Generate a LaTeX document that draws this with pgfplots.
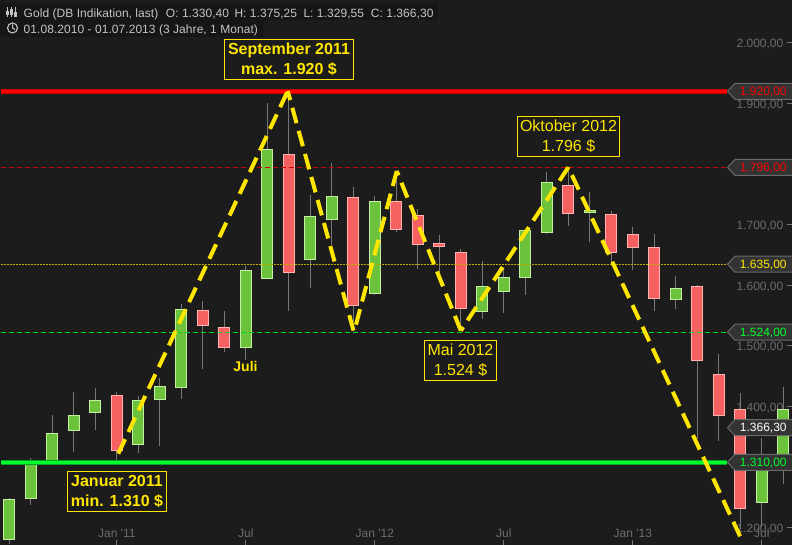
\documentclass[border=0pt]{standalone}
\usepackage{fontspec}
\setmainfont{Liberation Sans}
\usepackage{pgfplots}
\pgfplotsset{compat=1.18}
\definecolor{bg}{HTML}{1C1C1C}
\definecolor{strip}{HTML}{161616}
\definecolor{cgreen}{HTML}{6CC23A}
\definecolor{cgreenb}{HTML}{C4F0A4}
\definecolor{cred}{HTML}{F56060}
\definecolor{credb}{HTML}{FFB4B4}
\definecolor{wick}{HTML}{777777}
\definecolor{ticktxt}{HTML}{6C6C6C}
\definecolor{hdr}{HTML}{C4C4C4}
\definecolor{ann}{HTML}{FFE600}
\definecolor{lblfill}{HTML}{333333}
\definecolor{lbldraw}{HTML}{6A6A6A}
\definecolor{lineg}{HTML}{00FF2A}
\definecolor{lineG}{HTML}{00A52A}
\definecolor{liner}{HTML}{FF0000}
\definecolor{lineR}{HTML}{C40000}
% \candle{index}{top of body}{bottom of body}{high}{low}{fill}{border}
\newcommand\candle[7]{%
  \pgfmathsetmacro\xa{#1-0.263}\pgfmathsetmacro\xb{#1+0.263}%
  \addplot[wick,line width=1bp,forget plot] coordinates {(#1,#4) (#1,#5)};
  \addplot[fill=#6,draw=#7,line width=1bp,forget plot] coordinates {(\xa,#2) (\xb,#2) (\xb,#3) (\xa,#3)} -- cycle;
}
\newcommand\up[5]{\candle{#1}{#2}{#3}{#4}{#5}{cgreen}{cgreenb}}
\newcommand\dn[5]{\candle{#1}{#2}{#3}{#4}{#5}{cred}{credb}}
\newcommand\pricelabel[3]{% py, colour, text
  \draw[fill=lblfill,draw=lbldraw,line width=1bp] (727.5,#1) -- (735,#1+8) -- (793,#1+8) -- (793,#1-8) -- (735,#1-8) -- cycle;
  \node[anchor=base east,inner sep=0pt,text=#2,font=\fontsize{12bp}{14bp}\selectfont] at (786.8,#1-4.3) {#3};
}
\tikzset{annbox/.style={draw=ann,line width=1bp,text=ann,align=center,inner sep=0pt,fill=none},
 trend/.style={ann,line width=4bp,dash pattern=on 16bp off 7.9bp}}
\begin{document}
\begin{tikzpicture}[x=1bp,y=1bp]
\path[use as bounding box] (0,0) rectangle (792,545);
\fill[bg] (0,0) rectangle (792,545);
\begin{axis}[
  at={(0,0)},anchor=south west,
  scale only axis,width=792bp,height=545bp,
  xmin=-0.4326,xmax=36.405,ymin=1171.4,ymax=2070.4,
  axis line style={draw=none},
  tick align=inside,
  major tick length=5bp,
  tick style={wick,line width=1bp},
  xtick={5,11,17,23,29,35},
  xticklabels={Jan \textquotesingle 11,Jul,Jan \textquotesingle 12,Jul,Jan \textquotesingle 13,Jul},
  xtick pos=lower,xticklabel pos=lower,
  ytick={1200,1300,1400,1500,1600,1700,1800,1900,2000},
  yticklabels={{1.200,00},{1.300,00},{1.400,00},{1.500,00},{1.600,00},{1.700,00},{1.800,00},{1.900,00},{2.000,00}},
  ytick pos=right,yticklabel pos=right,
  xticklabel style={anchor=base,inner sep=0pt,text=ticktxt,font=\fontsize{12bp}{14bp}\selectfont,yshift=7.5bp},
  yticklabel style={anchor=east,inner sep=0pt,text=ticktxt,font=\fontsize{12bp}{14bp}\selectfont,xshift=-8.5bp,yshift=-1.5bp},
]
\up{0}{1246.8}{1180.8}{1249.0}{1173.6}
\up{1}{1308}{1247.8}{1314.9}{1236.9}
\up{2}{1355.7}{1308}{1385.4}{1308}
\up{3}{1385.4}{1360}{1423.8}{1324.8}
\up{4}{1410.1}{1389.7}{1430.4}{1361.1}
\dn{5}{1418.3}{1327}{1423.8}{1309.5}
\up{6}{1410.1}{1336.9}{1417.2}{1323.2}
\up{7}{1433.2}{1411.1}{1446.9}{1334.7}
\up{8}{1560.2}{1430.9}{1569}{1412.8}
\dn{9}{1558.6}{1533.2}{1573.4}{1461.7}
\dn{10}{1530.5}{1496.9}{1556.9}{1489.8}
\up{11}{1624.5}{1496.9}{1632.2}{1477.1}
\up{12}{1824.1}{1610.7}{1900}{1610.7}
\dn{13}{1815.9}{1620.6}{1920}{1557.4}
\up{14}{1713.6}{1642}{1748.2}{1595.3}
\up{15}{1746.6}{1708}{1801}{1666.3}
\dn{16}{1745}{1566.2}{1762}{1539.7}
\up{17}{1738.4}{1586}{1747.1}{1584.3}
\dn{18}{1738.4}{1691.5}{1786.7}{1688.2}
\dn{19}{1715.3}{1666.8}{1725.2}{1627.2}
\dn{20}{1669.1}{1663.5}{1682.8}{1621.7}
\dn{21}{1654.2}{1561.2}{1659.7}{1526.1}
\up{22}{1598.2}{1556.9}{1639.9}{1544.7}
\up{23}{1613}{1589.2}{1628.8}{1554.6}
\up{24}{1690.5}{1613}{1690.5}{1584.3}
\up{25}{1769.7}{1687.2}{1786.7}{1684.4}
\dn{26}{1764.8}{1718.6}{1793.3}{1697.6}
\up{27}{1722.4}{1719.6}{1753.7}{1671.7}
\dn{28}{1716.9}{1654.2}{1722.4}{1633.3}
\dn{29}{1684}{1662.5}{1696}{1625}
\dn{30}{1662.5}{1577.7}{1684.4}{1557.9}
\up{31}{1594.8}{1576.7}{1615.2}{1561.2}
\dn{32}{1598.2}{1475.4}{1599.8}{1346.8}
\dn{33}{1453}{1384.7}{1486.5}{1343}
\dn{34}{1395.3}{1231.3}{1422.2}{1198.3}
\up{35}{1308.3}{1241.2}{1347.9}{1201.1}
\up{36}{1395.3}{1311.6}{1432}{1272.5}
% horizontal levels
\addplot[lineR,line width=5bp,forget plot] coordinates {(-0.39,1920) (33.4,1920)};
\addplot[liner,line width=3bp,forget plot] coordinates {(-0.39,1920) (33.4,1920)};
\addplot[lineG,line width=5bp,forget plot] coordinates {(-0.39,1307.8) (33.4,1307.8)};
\addplot[lineg,line width=3bp,forget plot] coordinates {(-0.39,1307.8) (33.4,1307.8)};
\addplot[color=liner!80!black,line width=0.8bp,dash pattern=on 5bp off 3bp,forget plot] coordinates {(-0.39,1794) (33.4,1794)};
\addplot[color=ann!75!black,line width=0.8bp,dash pattern=on 2bp off 1bp,forget plot] coordinates {(-0.39,1635) (33.4,1635)};
\addplot[color=lineg!85!black,line width=0.8bp,dash pattern=on 5bp off 3bp,forget plot] coordinates {(-0.39,1522.5) (33.4,1522.5)};
% trend line, one leg at a time
\addplot[trend,forget plot] coordinates {(5.07,1322) (12.95,1920.3)};
\addplot[trend,dash phase=6.5bp,forget plot] coordinates {(12.95,1920.3) (16.03,1522.3)};
\addplot[trend,dash phase=16bp,forget plot] coordinates {(16.03,1522.3) (18.02,1788.3)};
\addplot[trend,forget plot] coordinates {(21,1524.9) (18.02,1788.3)};
\addplot[trend,forget plot] coordinates {(26,1794.4) (21,1524.9)};
\addplot[trend,forget plot] coordinates {(33.99,1185.8) (26,1794.4)};
\end{axis}
% price labels
\pricelabel{453.7}{liner}{1.920,00}
\pricelabel{377.5}{liner}{1.796,00}
\pricelabel{280.8}{ann}{1.635,00}
\pricelabel{212.8}{lineg}{1.524,00}
\pricelabel{117.3}{white}{1.366,30}
\pricelabel{82.7}{lineg}{1.310,00}
% header
\fill[strip] (0,525) rectangle (438,542);
\fill[strip] (0,508) rectangle (264,525);
\begin{scope}[font=\fontsize{12bp}{14bp}\selectfont\addfontfeature{LetterSpace=0.5},text=hdr]
\node[anchor=base west,inner sep=0pt] at (23.5,527.7) {Gold (DB Indikation, last)};
\node[anchor=base west,inner sep=0pt] at (165.7,527.7) {O: 1.330,40};
\node[anchor=base west,inner sep=0pt] at (234.3,527.7) {H: 1.375,25};
\node[anchor=base west,inner sep=0pt] at (303.3,527.7) {L: 1.329,55};
\node[anchor=base west,inner sep=0pt] at (370.7,527.7) {C: 1.366,30};
\node[anchor=base west,inner sep=0pt] at (23.5,511.7) {01.08.2010 - 01.07.2013 (3 Jahre, 1 Monat)};
\end{scope}
% icons
\begin{scope}[hdr,line width=1bp]
\draw (7.5,537.5) -- (7.5,527.5); \fill[hdr] (6.3,530) rectangle (8.7,534);
\draw (11.5,537.5) -- (11.5,527.5); \draw (10.3,530) rectangle (12.7,535);
\draw (15.5,537.5) -- (15.5,527.5); \draw (14.3,528.5) rectangle (16.7,532.5);
\draw[line width=1.1bp] (12.5,517) circle (5);
\draw (12.5,520.5) -- (12.5,517) -- (15,515.5);
\end{scope}
% annotations
\node[annbox,minimum width=129.4bp,minimum height=40.4bp,font=\fontsize{16bp}{20bp}\selectfont\bfseries] at (289,485.5) {September 2011\\max. 1.920 \$};
\node[annbox,minimum width=102.4bp,minimum height=40.4bp,font=\fontsize{16bp}{20bp}\selectfont] at (568.5,408.5) {Oktober 2012\\1.796 \$};
\node[annbox,minimum width=72.4bp,minimum height=40.4bp,font=\fontsize{16bp}{20bp}\selectfont] at (460.5,184.5) {Mai 2012\\1.524 \$};
\node[annbox,minimum width=99.4bp,minimum height=40.4bp,font=\fontsize{16bp}{20bp}\selectfont\bfseries] at (117,53.5) {Januar 2011\\min. 1.310 \$};
\node[text=ann,inner sep=0pt,font=\fontsize{14bp}{16bp}\selectfont\bfseries] at (245.5,178) {Juli};
\end{tikzpicture}
\end{document}
